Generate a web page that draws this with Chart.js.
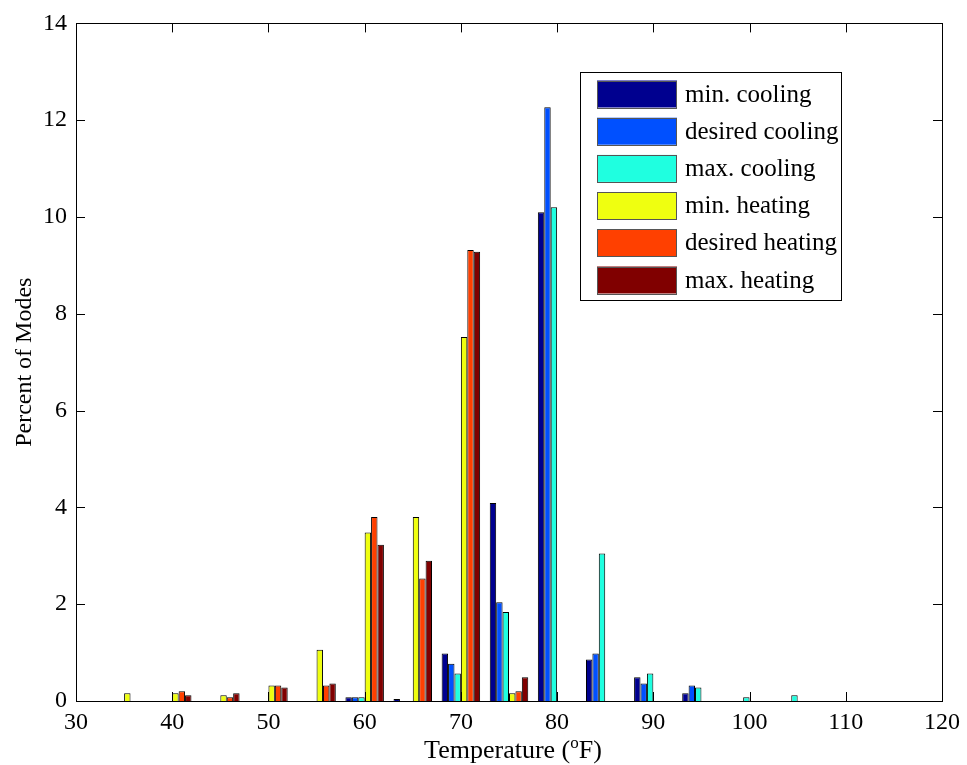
<!DOCTYPE html>
<html>
<head>
<meta charset="utf-8">
<script src="https://cdn.jsdelivr.net/npm/chart.js@4/dist/chart.umd.min.js"></script>
<style>
  html, body { margin: 0; padding: 0; background: #fff; }
  canvas { display: block; }
</style>
</head>
<body>
<canvas id="chart" width="967" height="765"></canvas>
<script>
// bin centres (deg F)
const bins = [35, 40, 45, 50, 55, 60, 65, 70, 75, 80, 85, 90, 95, 100, 105, 110];

// percent of modes per bin
const minCooling     = [0, 0, 0, 0, 0, 0.08, 0.04, 0.98, 4.09, 10.10, 0.86, 0.49, 0.16, 0, 0, 0];
const desiredCooling = [0, 0, 0, 0, 0, 0.08, 0, 0.77, 2.04, 12.27, 0.98, 0.36, 0.32, 0, 0, 0];
const maxCooling     = [0, 0, 0, 0, 0, 0.08, 0, 0.57, 1.84, 10.20, 3.05, 0.57, 0.28, 0.08, 0.12, 0];
const minHeating     = [0.16, 0.16, 0.12, 0.32, 1.06, 3.48, 3.80, 7.52, 0.16, 0, 0, 0, 0, 0, 0, 0];
const desiredHeating = [0, 0.20, 0.08, 0.32, 0.32, 3.80, 2.53, 9.32, 0.20, 0, 0, 0, 0, 0, 0, 0];
const maxHeating     = [0, 0.12, 0.16, 0.28, 0.36, 3.23, 2.90, 9.28, 0.49, 0, 0, 0, 0, 0, 0, 0];

const seriesLabels = ['min. cooling', 'desired cooling', 'max. cooling',
                      'min. heating', 'desired heating', 'max. heating'];
const seriesValues = [minCooling, desiredCooling, maxCooling, minHeating, desiredHeating, maxHeating];
const seriesColors = ['#00008F', '#0050FF', '#1FFFE0', '#EFFF10', '#FF4000', '#800000'];

const FONT = '"Liberation Serif", "Times New Roman", serif';

// MATLAB-ish box, inward ticks, axis titles and the legend inside the axes
const matlabAxes = {
    id: 'matlabAxes',
    afterDraw(chart) {
        const ctx = chart.ctx;
        const { left, right, top, bottom } = chart.chartArea;
        const xs = chart.scales.x, ys = chart.scales.y;
        const TL = 9;

        ctx.save();
        ctx.strokeStyle = '#000';
        ctx.lineWidth = 1;
        ctx.beginPath();
        xs.ticks.forEach((t) => {
            const px = Math.round(xs.getPixelForValue(t.value)) + 0.5;
            ctx.moveTo(px, bottom); ctx.lineTo(px, bottom - TL);
            ctx.moveTo(px, top);    ctx.lineTo(px, top + TL);
        });
        ys.ticks.forEach((t) => {
            const py = Math.round(ys.getPixelForValue(t.value)) + 0.5;
            ctx.moveTo(left, py);  ctx.lineTo(left + TL, py);
            ctx.moveTo(right, py); ctx.lineTo(right - TL, py);
        });
        ctx.stroke();
        ctx.strokeRect(Math.round(left) + 0.5, Math.round(top) + 0.5,
                       Math.round(right - left), Math.round(bottom - top));

        // axis titles
        ctx.fillStyle = '#000';
        ctx.textBaseline = 'alphabetic';
        const a = 'Temperature (', b = 'F)';
        ctx.font = '26px ' + FONT;
        const wa = ctx.measureText(a).width, wb = ctx.measureText(b).width;
        ctx.font = '17px ' + FONT;
        const wo = ctx.measureText('o').width;
        const x0 = (left + right) / 2 - (wa + wo + wb) / 2 + 4;
        const base = 758;
        ctx.textAlign = 'left';
        ctx.font = '26px ' + FONT;
        ctx.fillText(a, x0, base);
        ctx.font = '17px ' + FONT;
        ctx.fillText('o', x0 + wa, base - 10);
        ctx.font = '26px ' + FONT;
        ctx.fillText(b, x0 + wa + wo, base);

        ctx.save();
        ctx.translate(31, (top + bottom) / 2);
        ctx.rotate(-Math.PI / 2);
        ctx.textAlign = 'center';
        ctx.font = '24px ' + FONT;
        ctx.fillText('Percent of Modes', 0, 0);
        ctx.restore();

        // legend
        const lx = 580.5, ly = 72.5, lw = 261, lh = 228;
        ctx.fillStyle = '#fff';
        ctx.fillRect(lx, ly, lw, lh);
        ctx.strokeStyle = '#000';
        ctx.strokeRect(lx, ly, lw, lh);
        ctx.font = '25px ' + FONT;
        ctx.textAlign = 'left';
        ctx.textBaseline = 'middle';
        chart.data.datasets.forEach((ds, i) => {
            const cy = 94 + i * 37.2;
            ctx.fillStyle = ds.backgroundColor;
            ctx.fillRect(597, cy - 13.5, 80, 27);
            ctx.strokeStyle = '#555';
            ctx.strokeRect(597.5, Math.round(cy - 13.5) + 0.5, 79, 27);
            ctx.fillStyle = '#000';
            ctx.fillText(ds.label, 685, cy + 1);
        });
        ctx.restore();
    }
};

new Chart(document.getElementById('chart'), {
    type: 'bar',
    data: {
        datasets: seriesLabels.map((label, i) => ({
            label,
            data: bins.map((x, j) => ({ x, y: seriesValues[i][j] })),
            backgroundColor: seriesColors[i],
            borderColor: '#000',
            borderWidth: 1,
            categoryPercentage: 0.8,
            barPercentage: 1.0
        }))
    },
    options: {
        responsive: false,
        animation: false,
        layout: { padding: { top: 18, right: 23, left: 0, bottom: 0 } },
        plugins: { legend: { display: false }, tooltip: { enabled: false } },
        scales: {
            x: {
                type: 'linear',
                min: 30,
                max: 120,
                offset: false,
                grid: { display: false, offset: false, drawTicks: false },
                border: { display: false },
                ticks: { stepSize: 10, padding: 7, color: '#000', font: { family: FONT, size: 24 } },
                afterFit(scale) { scale.height = 64; }
            },
            y: {
                min: 0,
                max: 14,
                grid: { display: false, drawTicks: false },
                border: { display: false },
                ticks: { stepSize: 2, padding: 9, color: '#000', font: { family: FONT, size: 24 } },
                afterFit(scale) { scale.width = 76; }
            }
        }
    },
    plugins: [matlabAxes]
});
</script>
</body>
</html>
